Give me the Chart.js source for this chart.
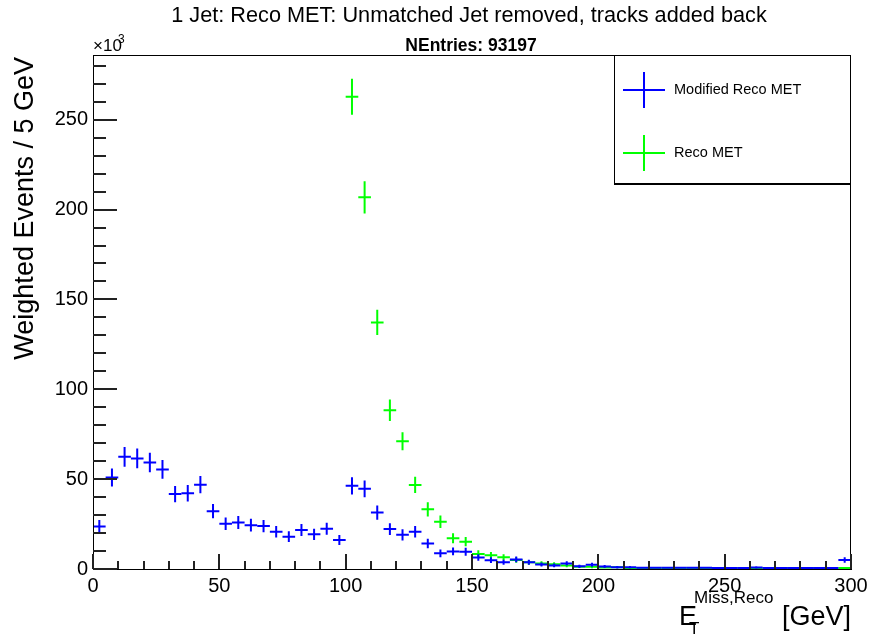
<!DOCTYPE html>
<html>
<head>
<meta charset="utf-8">
<script src="https://cdn.jsdelivr.net/npm/chart.js@4.4.0/dist/chart.umd.min.js"></script>
<style>
  html, body { margin: 0; background: #fff; }
</style>
</head>
<body>
<canvas id="c" width="870" height="639"></canvas>
<script>
// bin centres, 5 GeV bins from 0 to 300
const binCenters = [
  2.5, 7.5, 12.5, 17.5, 22.5, 27.5, 32.5, 37.5, 42.5, 47.5,
  52.5, 57.5, 62.5, 67.5, 72.5, 77.5, 82.5, 87.5, 92.5, 97.5,
  102.5, 107.5, 112.5, 117.5, 122.5, 127.5, 132.5, 137.5, 142.5, 147.5,
  152.5, 157.5, 162.5, 167.5, 172.5, 177.5, 182.5, 187.5, 192.5, 197.5,
  202.5, 207.5, 212.5, 217.5, 222.5, 227.5, 232.5, 237.5, 242.5, 247.5,
  252.5, 257.5, 262.5, 267.5, 272.5, 277.5, 282.5, 287.5, 292.5, 297.5
];
const binHalfWidth = 2.5;

// Modified Reco MET (x10^3)
const modifiedMet = [
  23.7, 50.9, 62.4, 61.5, 59.3, 55.4, 41.7, 42.2, 46.9, 32.2,
  25.2, 25.9, 24.4, 23.9, 20.7, 18.0, 21.7, 19.3, 22.4, 16.1,
  46.3, 44.6, 31.4, 22.2, 19.0, 20.7, 14.2, 8.7, 9.8, 9.6,
  6.4, 4.9, 3.8, 5.3, 3.8, 2.5, 2.0, 3.1, 1.5, 2.4,
  1.4, 1.0, 1.0, 0.7, 0.7, 0.7, 0.7, 0.7, 0.7, 0.6,
  0.2, 0.3, 0.8, 0.2, 0.2, 0.1, 0.1, 0.1, 0.1, 5.0
];
const modifiedMetErr = [
  3.5, 5.0, 5.5, 5.5, 5.4, 5.2, 4.5, 4.6, 4.8, 4.0,
  3.5, 3.6, 3.5, 3.4, 3.2, 3.0, 3.3, 3.1, 3.3, 2.8,
  4.8, 4.7, 4.0, 3.3, 3.1, 3.2, 2.7, 2.1, 2.2, 2.2,
  1.8, 1.6, 1.4, 1.6, 1.4, 1.1, 1.0, 1.2, 0.9, 1.1,
  0.8, 0.7, 0.7, 0.5, 0.5, 0.5, 0.5, 0.5, 0.5, 0.5,
  0.3, 0.4, 0.7, 0.2, 0.2, 0.1, 0.1, 0.1, 0.1, 1.5
];

// Reco MET (x10^3); nothing below 100 GeV
const recoMet = [
  null, null, null, null, null, null, null, null, null, null,
  null, null, null, null, null, null, null, null, null, null,
  262.8, 206.8, 137.2, 88.3, 71.1, 46.8, 33.2, 26.3, 17.1, 15.2,
  8.4, 7.6, 6.5, 5.0, 3.7, 3.1, 2.6, 1.9, 1.3, 1.2,
  0.9, 1.0, 0.6, 0.4, 0.4, 0.3, 0.3, 0.2, 0.2, 0.2,
  0.1, 0.1, 0.1, 0.1, 0.1, 0.1, 0.1, 0.1, 0.1, 0.1
];
const recoMetErr = [
  0, 0, 0, 0, 0, 0, 0, 0, 0, 0,
  0, 0, 0, 0, 0, 0, 0, 0, 0, 0,
  10.0, 9.0, 7.0, 6.0, 5.0, 4.5, 4.0, 3.5, 2.8, 2.6,
  2.0, 1.9, 1.7, 1.5, 1.3, 1.2, 1.1, 0.9, 0.8, 0.8,
  0.6, 0.7, 0.5, 0.4, 0.4, 0.3, 0.3, 0.3, 0.3, 0.3,
  0.2, 0.2, 0.2, 0.2, 0.2, 0.2, 0.2, 0.2, 0.2, 0.2
];

const xMin = 0, xMax = 300, yMin = 0, yMax = 286;
const xLabelTicks = [0, 50, 100, 150, 200, 250, 300];
const yLabelTicks = [0, 50, 100, 150, 200, 250];

const BLUE = '#0000ff';
const GREEN = '#00ff00';
const FONT = '"Liberation Sans", Arial, sans-serif';

const toPoints = (vals, errs) => binCenters.map((x, i) => ({ x, y: vals[i], err: errs[i] }));

// ROOT-style crosses: horizontal = bin width, vertical = error
const errorBars = {
  id: 'errorBars',
  afterDatasetsDraw(chart) {
    const { ctx, chartArea: a, scales: { x, y } } = chart;
    ctx.save();
    ctx.beginPath();
    ctx.rect(a.left, a.top - 1, a.right - a.left, a.bottom - a.top + 1);
    ctx.clip();
    chart.data.datasets.forEach(ds => {
      ctx.strokeStyle = ds.borderColor;
      ctx.lineWidth = 2;
      ds.data.forEach(p => {
        if (p.y == null) return;
        const py = Math.min(y.getPixelForValue(p.y), a.bottom - 1);
        ctx.beginPath();
        ctx.moveTo(x.getPixelForValue(p.x - binHalfWidth), py);
        ctx.lineTo(x.getPixelForValue(p.x + binHalfWidth), py);
        if (p.err > 0) {
          const px = x.getPixelForValue(p.x);
          ctx.moveTo(px, y.getPixelForValue(p.y + p.err));
          ctx.lineTo(px, y.getPixelForValue(Math.max(0, p.y - p.err)));
        }
        ctx.stroke();
      });
    });
    ctx.restore();
  }
};

// frame, inward ticks, titles and the legend box
const decorations = {
  id: 'decorations',
  afterDraw(chart) {
    const { ctx, chartArea: a } = chart;
    const xs = chart.scales.x, ys = chart.scales.y;
    ctx.save();
    ctx.strokeStyle = '#000';
    ctx.lineWidth = 1;
    ctx.strokeRect(a.left + 0.5, a.top + 0.5, a.right - a.left - 1, a.bottom - a.top);

    ctx.fillStyle = '#222';
    for (let v = xMin; v <= xMax; v += 10) {
      const px = Math.round(xs.getPixelForValue(v));
      const len = v % 50 === 0 ? 15 : 8;
      ctx.fillRect(px - 1, a.bottom - len, 2, len);
    }
    for (let v = yMin; v <= yMax; v += 10) {
      const py = Math.round(ys.getPixelForValue(v));
      const len = v % 50 === 0 ? 24 : 13;
      ctx.fillRect(a.left, py - 1, len, 2);
    }

    ctx.fillStyle = '#000';
    ctx.textBaseline = 'alphabetic';
    ctx.textAlign = 'center';
    ctx.font = '21.7px ' + FONT;
    ctx.fillText('1 Jet: Reco MET: Unmatched Jet removed, tracks added back', 469, 22);
    ctx.font = 'bold 17.5px ' + FONT;
    ctx.fillText('NEntries: 93197', 471, 51);

    ctx.textAlign = 'left';
    ctx.font = '17px ' + FONT;
    ctx.fillText('\u00d710', 93, 51);
    ctx.font = '12px ' + FONT;
    ctx.fillText('3', 118, 43);

    // y title
    ctx.save();
    ctx.translate(33, 57);
    ctx.rotate(-Math.PI / 2);
    ctx.textAlign = 'right';
    ctx.font = '27px ' + FONT;
    ctx.fillText('Weighted Events / 5 GeV', 0, 0);
    ctx.restore();

    // x title
    ctx.textAlign = 'left';
    ctx.font = '27px ' + FONT;
    ctx.fillText('E', 679, 625);
    ctx.font = '17px ' + FONT;
    ctx.fillText('Miss,Reco', 694, 603);
    ctx.fillText('T', 689, 634);
    ctx.font = '27px ' + FONT;
    ctx.textAlign = 'right';
    ctx.fillText('[GeV]', 851, 625);

    // legend
    ctx.strokeStyle = '#000';
    ctx.lineWidth = 1;
    ctx.strokeRect(614.5, 55.5, 236, 128);
    ctx.beginPath();
    ctx.moveTo(614, 184.5); ctx.lineTo(851, 184.5);
    ctx.stroke();
    const entries = [
      { label: 'Modified Reco MET', color: BLUE, y: 90 },
      { label: 'Reco MET', color: GREEN, y: 153 }
    ];
    ctx.textAlign = 'left';
    ctx.textBaseline = 'middle';
    ctx.font = '14.5px ' + FONT;
    entries.forEach(e => {
      ctx.strokeStyle = e.color;
      ctx.lineWidth = 2;
      ctx.beginPath();
      ctx.moveTo(623, e.y); ctx.lineTo(665, e.y);
      ctx.moveTo(644, e.y - 18); ctx.lineTo(644, e.y + 18);
      ctx.stroke();
      ctx.fillStyle = '#000';
      ctx.fillText(e.label, 674, e.y);
    });
    ctx.restore();
  }
};

new Chart(document.getElementById('c'), {
  type: 'scatter',
  data: {
    datasets: [
      { label: 'Reco MET', data: toPoints(recoMet, recoMetErr), borderColor: GREEN, pointRadius: 0, showLine: false },
      { label: 'Modified Reco MET', data: toPoints(modifiedMet, modifiedMetErr), borderColor: BLUE, pointRadius: 0, showLine: false }
    ]
  },
  options: {
    responsive: false,
    animation: false,
    devicePixelRatio: 1,
    layout: { padding: { top: 55, right: 19, left: 0, bottom: 0 } },
    plugins: { legend: { display: false }, tooltip: { enabled: false } },
    scales: {
      x: {
        type: 'linear', min: xMin, max: xMax,
        grid: { display: false, drawTicks: false },
        border: { display: true, color: '#000', width: 1 },
        afterBuildTicks: s => { s.ticks = xLabelTicks.map(v => ({ value: v })); },
        ticks: { color: '#000', font: { family: FONT, size: 20 }, padding: 5, maxRotation: 0, autoSkip: false },
        afterFit: s => { s.height = 70; s.paddingLeft = 0; s.paddingRight = 0; }
      },
      y: {
        min: yMin, max: yMax,
        grid: { display: false, drawTicks: false },
        border: { display: true, color: '#000', width: 1 },
        afterBuildTicks: s => { s.ticks = yLabelTicks.map(v => ({ value: v })); },
        ticks: { color: '#000', font: { family: FONT, size: 20 }, padding: 5, autoSkip: false },
        afterFit: s => { s.width = 93; s.paddingTop = 0; s.paddingBottom = 0; }
      }
    }
  },
  plugins: [errorBars, decorations]
});
</script>
</body>
</html>
